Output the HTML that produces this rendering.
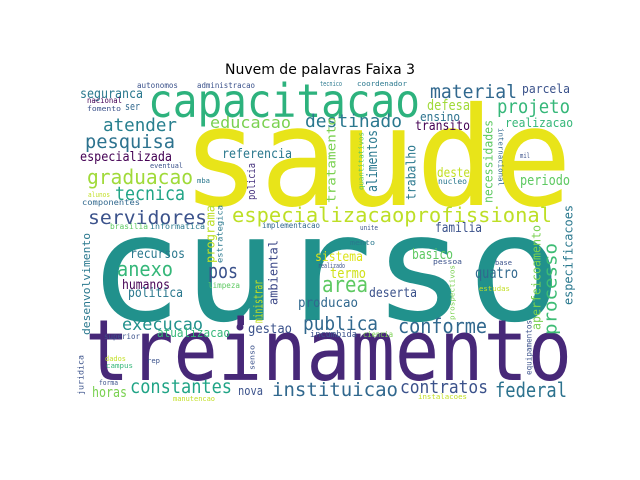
<!DOCTYPE html>
<html><head><meta charset="utf-8">
<style>
html,body{margin:0;padding:0;background:#fff;}
svg{display:block;}
text{font-family:"DejaVu Sans Mono","Liberation Mono",monospace;}
</style></head>
<body>
<svg id="chart" width="640" height="480" viewBox="0 0 640 480" xmlns="http://www.w3.org/2000/svg">
<rect width="640" height="480" fill="#fff"/>
<text x="320" y="74" text-anchor="middle" font-size="14" fill="#000" style="font-family:'DejaVu Sans','Liberation Sans',sans-serif">Nuvem de palavras Faixa 3</text>
<g id="words"></g>
</svg>
<script>
// horizontal words: text, x-left, x-right, baseline, font-size, colour
const hWords = [
["saude",182,572,205,137,"#e8e419"],
["curso",88,562,320,148,"#21918c"],
["treinamento",85,572,380,85,"#472878"],
["capacitacao",148,420,117,46,"#2db27d"],
["seguranca",80,143,98,13,"#2a788e"],
["autonomos",137,178,88,8,"#3b528b"],
["administracao",197,255,88,8,"#3b528b"],
["nacional",87,122,103,8,"#440154"],
["fomento",87,121,111,7,"#3b528b"],
["ser",125,140,110,11,"#31688e"],
["atender",103,177,131,18,"#277f8e"],
["educacao",210,291,128,16,"#7ad151"],
["pesquisa",85,175,148,19,"#2c728e"],
["especializada",80,172,161,13,"#440154"],
["referencia",222,292,158,13,"#2a788e"],
["graduacao",87,193,184,20,"#a0da39"],
["eventual",150,183,168,7,"#3b528b"],
["mba",197,210,183,7,"#2a788e"],
["tecnica",115,185,200,19,"#20a486"],
["alunos",88,110,197,7,"#c2df23"],
["componentes",82,140,205,8,"#31688e"],
["servidores",88,207,224,19,"#3b528b"],
["especializacaoprofissional",232,552,222,20,"#bddf26"],
["brasilia",110,148,229,8,"#5ec962"],
["informatica",150,205,229,8,"#2a788e"],
["implementacao",262,320,228,8,"#31688e"],
["recursos",130,185,258,13,"#2a788e"],
["anexo",117,173,276,20,"#35b779"],
["pos",208,238,278,20,"#3b528b"],
["humanos",122,170,289,13,"#440154"],
["politica",128,183,297,13,"#2a788e"],
["limpeza",208,240,288,8,"#5ec962"],
["execucao",122,203,330,17,"#21918c"],
["atualizacao",157,230,337,12,"#35b779"],
["gestao",248,292,333,13,"#3b528b"],
["superior",104,140,339,8,"#3b528b"],
["dados",105,126,361,7,"#c2df23"],
["campus",106,133,368,7,"#35b779"],
["rep",147,160,363,7,"#3b528b"],
["forma",99,118,385,7,"#3b528b"],
["horas",92,127,397,14,"#7ad151"],
["constantes",130,232,393,19,"#20a486"],
["manutencao",173,215,401,7,"#c2df23"],
["nova",238,263,395,12,"#3b528b"],
["instituicao",272,398,396,19,"#31688e"],
["publica",303,378,330,19,"#31688e"],
["conforme",398,487,333,20,"#31688e"],
["contratos",400,488,393,18,"#3b528b"],
["federal",495,567,397,20,"#2c728e"],
["instalacoes",418,467,399,7,"#c2df23"],
["producao",298,358,307,13,"#31688e"],
["incumbida",310,357,337,9,"#3b528b"],
["ciencia",363,393,337,8,"#7ad151"],
["sistema",315,363,261,13,"#dde318"],
["realizado",318,345,268,7,"#3b528b"],
["termo",330,366,278,14,"#d0e11c"],
["area",322,368,292,22,"#5ec962"],
["deserta",369,417,297,13,"#3b528b"],
["basico",412,453,259,14,"#5ec962"],
["pessoa",433,462,264,7,"#3b528b"],
["quatro",475,518,278,15,"#31688e"],
["base",495,512,265,7,"#3b528b"],
["estudas",479,510,291,7,"#c2df23"],
["mento",350,375,245,7,"#2a788e"],
["unite",360,378,230,7,"#3b528b"],
["familia",435,482,232,13,"#3b528b"],
["material",430,517,98,19,"#31688e"],
["parcela",522,570,93,12,"#3b528b"],
["tecnico",320,342,86,7,"#2a788e"],
["coordenador",357,407,86,7,"#2a788e"],
["destinado",305,402,127,18,"#2a788e"],
["projeto",497,570,113,19,"#35b779"],
["defesa",427,470,110,14,"#a0da39"],
["ensino",420,460,121,12,"#2c728e"],
["transito",415,470,130,13,"#440154"],
["realizacao",505,573,127,12,"#35b779"],
["deste",437,470,177,13,"#c2df23"],
["nucleo",438,467,184,8,"#2a788e"],
["mil",520,530,158,7,"#3b528b"],
["periodo",520,570,185,14,"#5ec962"]
];
// vertical words: text, baseline-x, y-top, y-bottom, font-size, colour, direction
const vWords = [
["policia",257,163,200,11,"#46337e",-90],
["programa",217,205,263,12,"#bddf26",-90],
["estrategica",224,205,263,8,"#2a788e",-90],
["ministrar",265,280,323,12,"#c2df23",-90],
["ambiental",280,240,305,12,"#3e4a89",-90],
["desenvolvimento",92,233,335,11,"#2a788e",-90],
["juridica",85,355,395,8,"#3b528b",-90],
["senso",256,345,370,7,"#3b528b",-90],
["prospectivos",456,265,320,7,"#7ad151",-90],
["processo",560,243,335,18,"#3dbc74",-90],
["aperfeicoamento",543,225,330,12,"#7ad151",-90],
["especificacoes",575,205,305,12,"#2a788e",-90],
["equipamentos",533,320,375,8,"#3b528b",-90],
["tratamento",338,117,203,12,"#7ad151",-90],
["alimentos",380,130,192,14,"#2a788e",-90],
["quantitativos",365,132,190,7,"#5ec962",-90],
["trabalho",418,145,200,13,"#2a788e",-90],
["necessidades",495,120,203,12,"#5ec962",-90],
["internacional",497,128,186,7,"#31688e",90]
];
const NS = "http://www.w3.org/2000/svg";
const g = document.getElementById("words");
function mk(t, size, color, len){
  const el = document.createElementNS(NS, "text");
  el.textContent = t;
  el.setAttribute("font-size", size);
  el.setAttribute("fill", color);
  el.setAttribute("textLength", len);
  el.setAttribute("lengthAdjust", "spacingAndGlyphs");
  return el;
}
hWords.forEach(w => {
  const el = mk(w[0], w[4], w[5], w[2]-w[1]);
  el.setAttribute("x", w[1]);
  el.setAttribute("y", w[3]);
  
  
  g.appendChild(el);
});
vWords.forEach(w => {
  const el = mk(w[0], w[4], w[5], w[3]-w[2]);
  let x, y;
  if (w[6] < 0) { x = w[1] - w[4]*0.2; y = w[3]; }
  else { x = w[1] + w[4]*0.2; y = w[2]; }
  el.setAttribute("x", x);
  el.setAttribute("y", y);
  el.setAttribute("transform", "rotate(" + w[6] + " " + x + " " + y + ")");
  
  
  g.appendChild(el);
});
const dot = document.createElementNS(NS, "circle");
dot.setAttribute("cx", 240); dot.setAttribute("cy", 327); dot.setAttribute("r", 3.5);
dot.setAttribute("fill", "#472878");


g.appendChild(dot);
</script>
</body></html>
